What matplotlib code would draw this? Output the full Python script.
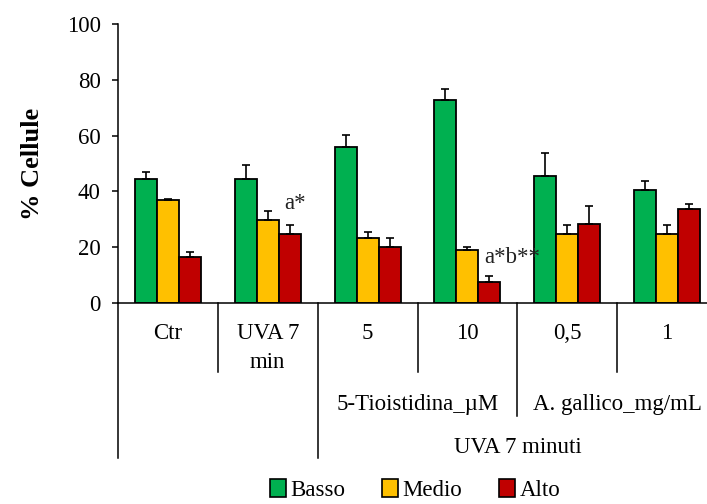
import numpy as np
import matplotlib
matplotlib.use("Agg")
import matplotlib.pyplot as plt
from matplotlib.patches import Patch

plt.rcParams['font.family'] = ['Liberation Serif', 'DejaVu Serif']

# % of cells per class, mean and (upper) SD
groups = ['Ctr', 'UVA 7\nmin', '5', '10', '0,5', '1']
series = ['Basso', 'Medio', 'Alto']
basso = [44.3, 44.3, 56.0, 72.9, 45.6, 40.5]
basso_err = [2.7, 5.3, 4.2, 3.8, 8.3, 3.2]
medio = [36.8, 29.8, 23.4, 19.0, 24.6, 24.6]
medio_err = [0.6, 3.2, 2.1, 1.2, 3.2, 3.2]
alto = [16.5, 24.6, 20.2, 7.6, 28.4, 33.6]
alto_err = [1.9, 3.2, 3.2, 2.0, 6.5, 2.0]
colors = ['#00B050', '#FFC000', '#C00000']
fs = 16.5

fig = plt.figure(figsize=(7.07, 5.04), dpi=100)
# axes runs past the right edge of the figure (last group is cut)
ax = fig.add_axes([118 / 707, 201 / 504, 599 / 707, 279 / 504])

x = np.arange(len(groups)) + 0.5
w = 0.22
for i, (vals, errs) in enumerate([(basso, basso_err), (medio, medio_err), (alto, alto_err)]):
    pos = x + (i - 1) * w
    ax.bar(pos, vals, w, color=colors[i], edgecolor='black', linewidth=1.3, zorder=2)
    ax.errorbar(pos, vals, yerr=[np.zeros(len(vals)), errs], fmt='none',
                ecolor='black', elinewidth=1.2, capsize=3, capthick=1.2, zorder=3)

# significance marks
ax.text(x[1] + w + 0.05, 35.5, 'a*', fontsize=fs, color='#222222', ha='center', va='center')
ax.text(x[3] + w - 0.05, 16.3, 'a*b**', fontsize=fs, color='#222222', ha='left', va='center')

ax.set_xlim(0, 6)
ax.set_ylim(0, 100)
ax.set_yticks(range(0, 101, 20))
ax.tick_params(axis='y', labelsize=fs, length=4.5, width=1.1, direction='out', pad=8)
ax.set_xticks([])
for s in ['top', 'right']:
    ax.spines[s].set_visible(False)
for s in ['left', 'bottom']:
    ax.spines[s].set_linewidth(1.1)
ax.set_ylabel('% Cellule', fontsize=19, fontweight='bold', labelpad=16)

# hierarchical category axis below the plot
tr = ax.get_xaxis_transform()
dividers = [(0, -0.557), (1, -0.246), (2, -0.557), (3, -0.246), (4, -0.404), (5, -0.246)]
for xd, yend in dividers:
    ax.plot([xd, xd], [0, yend], color='black', lw=1.1, transform=tr, clip_on=False)

for xi, lab in zip(x, groups):
    for row, line in zip([-0.129, -0.233], lab.split('\n')):
        ax.text(xi, row, line, transform=tr, ha='center', va='baseline', fontsize=fs)
ax.text(3, -0.3835, '5-Tioistidina_\u00b5M', transform=tr, ha='center', va='baseline', fontsize=fs)
ax.text(5, -0.3835, 'A. gallico_mg/mL', transform=tr, ha='center', va='baseline', fontsize=fs)
ax.text(4, -0.5376, 'UVA 7 minuti', transform=tr, ha='center', va='baseline', fontsize=fs)

handles = [Patch(facecolor=c, edgecolor='black', linewidth=1.2) for c in colors]
fig.legend(handles, series, loc='center', bbox_to_anchor=(415 / 707, 1 - 490 / 504),
           ncol=3, frameon=False, fontsize=fs, handlelength=0.7, handleheight=0.8,
           handletextpad=0.2, columnspacing=1.6, borderpad=0)

fig.savefig('out.png', dpi=100)
